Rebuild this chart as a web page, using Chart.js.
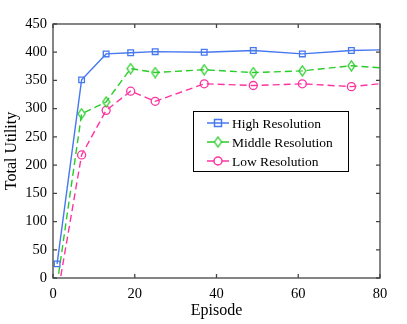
<!DOCTYPE html>
<html>
<head>
<meta charset="utf-8">
<script src="https://cdn.jsdelivr.net/npm/chart.js@4"></script>
<style>
  body{margin:0;background:#fff}
  #wrap{width:407px;height:324px}
</style>
</head>
<body>
<div id="wrap"><canvas id="myChart" width="407" height="324"></canvas></div>
<script>
const episodes = [1, 7, 13, 19, 25, 37, 49, 61, 73, 85]
const highRes = [25, 351, 397, 399, 401, 400, 403, 397, 403, 405]
const middleRes = [-12, 291, 312, 371, 364, 369, 364, 367, 376, 370]
const lowRes = [-35, 218, 297, 331, 313, 344, 341, 344, 339, 348]
const xTicks = [0, 20, 40, 60, 80]
const yTicks = [0, 50, 100, 150, 200, 250, 300, 350, 400, 450]

const seriesNames = ['High Resolution', 'Middle Resolution', 'Low Resolution']
const colors = ['rgb(70,120,240)', 'rgb(40,205,40)', 'rgb(255,50,160)']

function diamond(color){
    const c = document.createElement('canvas')
    c.width = 9
    c.height = 12
    const g = c.getContext('2d')
    g.strokeStyle = color
    g.lineWidth = 1.3
    g.beginPath()
    g.moveTo(4.5, 1)
    g.lineTo(8, 6)
    g.lineTo(4.5, 11)
    g.lineTo(1, 6)
    g.closePath()
    g.stroke()
    return c
}

const toPoints = (vals) => vals.map((v, i) => ({x: episodes[i], y: v}))
const serif = 'Liberation Serif, Times New Roman, serif'

// box with inward ticks on all sides + legend box inside plot
const frame = {
    id: 'frame',
    afterDraw(chart){
        const ctx = chart.ctx
        const a = chart.chartArea
        const xs = chart.scales.x, ys = chart.scales.y
        ctx.save()
        ctx.strokeStyle = '#444'
        ctx.lineWidth = 1.3
        ctx.strokeRect(a.left, a.top, a.right - a.left, a.bottom - a.top)
        ctx.beginPath()
        xTicks.forEach(t => {
            const px = xs.getPixelForValue(t)
            ctx.moveTo(px, a.bottom); ctx.lineTo(px, a.bottom - 4)
            ctx.moveTo(px, a.top); ctx.lineTo(px, a.top + 4)
        })
        yTicks.forEach(t => {
            const py = ys.getPixelForValue(t)
            ctx.moveTo(a.left, py); ctx.lineTo(a.left + 4, py)
            ctx.moveTo(a.right, py); ctx.lineTo(a.right - 4, py)
        })
        ctx.stroke()

        // legend
        const lx = 193, ly = 111, lw = 155, lh = 60
        ctx.fillStyle = '#fff'
        ctx.fillRect(lx, ly, lw, lh)
        ctx.strokeStyle = '#000'
        ctx.lineWidth = 1
        ctx.strokeRect(lx + 0.5, ly + 0.5, lw, lh)
        ctx.font = '13.5px ' + serif
        ctx.textBaseline = 'middle'
        chart.data.datasets.forEach((ds, i) => {
            const y = 123 + i * 19
            ctx.strokeStyle = ds.borderColor
            ctx.lineWidth = 1.5
            ctx.setLineDash([])
            ctx.beginPath()
            ctx.moveTo(207, y); ctx.lineTo(229, y)
            ctx.stroke()
            const m = 218
            if (i === 0) {
                ctx.strokeRect(m - 3.5, y - 3.5, 7, 7)
            } else if (i === 1) {
                ctx.fillStyle = '#fff'
                ctx.fillRect(m - 3, y - 4, 6, 8)
                ctx.drawImage(ds.pointStyle, m - 4.5, y - 6)
            } else {
                ctx.fillStyle = '#fff'
                ctx.beginPath()
                ctx.arc(m, y, 4, 0, Math.PI * 2)
                ctx.fill()
                ctx.stroke()
            }
            ctx.fillStyle = '#000'
            ctx.fillText(ds.label, 232, y + 1)
        })
        ctx.restore()
    }
}

const ctx = document.getElementById('myChart')
const myChart = new Chart(ctx, {
    type: 'line',
    data: {
        datasets: [
            {
                label: seriesNames[0],
                data: toPoints(highRes),
                borderColor: colors[0],
                borderWidth: 1.4,
                pointStyle: 'rect',
                pointRadius: 4,
                pointBorderWidth: 1.3,
                pointBackgroundColor: 'rgba(255,255,255,0)',
                pointBorderColor: colors[0]
            },
            {
                label: seriesNames[1],
                data: toPoints(middleRes),
                borderColor: colors[1],
                borderWidth: 1.4,
                borderDash: [7, 4],
                pointStyle: diamond(colors[1]),
                pointRadius: 5
            },
            {
                label: seriesNames[2],
                data: toPoints(lowRes),
                borderColor: colors[2],
                borderWidth: 1.4,
                borderDash: [7, 4],
                pointStyle: 'circle',
                pointRadius: 4,
                pointBorderWidth: 1.3,
                pointBackgroundColor: 'rgba(255,255,255,0)',
                pointBorderColor: colors[2]
            }
        ]
    },
    options: {
        responsive: false,
        animation: false,
        events: [],
        layout: {padding: {top: 24, right: 27, left: 0, bottom: 0}},
        plugins: {legend: {display: false}, tooltip: {enabled: false}},
        scales: {
            x: {
                type: 'linear',
                min: 0,
                max: 80,
                afterFit: (s) => { s.height = 46 },
                afterBuildTicks: (s) => { s.ticks = xTicks.map(v => ({value: v})) },
                grid: {display: false, drawTicks: false},
                border: {display: false},
                ticks: {color: '#000', padding: 7, maxRotation: 0, font: {family: serif, size: 14.5}},
                title: {display: true, text: 'Episode', color: '#000', padding: {top: 0, bottom: 4}, font: {family: serif, size: 16}}
            },
            y: {
                min: 0,
                max: 450,
                afterFit: (s) => { s.width = 53 },
                afterBuildTicks: (s) => { s.ticks = yTicks.map(v => ({value: v})) },
                grid: {display: false, drawTicks: false},
                border: {display: false},
                ticks: {color: '#000', padding: 6, font: {family: serif, size: 14.5}},
                title: {display: true, text: 'Total Utility', color: '#000', padding: {top: 2, bottom: 0}, font: {family: serif, size: 16}}
            }
        }
    },
    plugins: [frame]
})
</script>
</body>
</html>
